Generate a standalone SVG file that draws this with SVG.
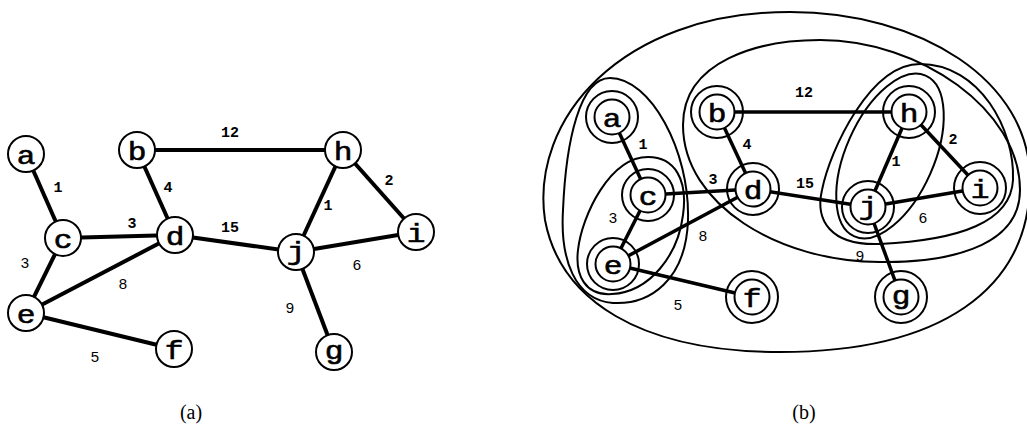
<svg xmlns="http://www.w3.org/2000/svg" width="1027" height="433" viewBox="0 0 1027 433">
<style>
.e{stroke:#000;stroke-width:4;fill:none}
.eb{stroke:#000;stroke-width:3.5;fill:none}
.n{fill:#fff;stroke:#000;stroke-width:2}
.r{fill:none;stroke:#000;stroke-width:2}
.cl{fill:none;stroke:#000;stroke-width:2}
.lt{font-family:"Liberation Mono",monospace;font-size:26px;font-weight:normal;text-anchor:middle;stroke:#000;stroke-width:0.6}
.w{font-family:"Liberation Mono",monospace;font-size:15px;font-weight:bold;text-anchor:middle}
.ws{font-family:"Liberation Sans",sans-serif;font-size:15px;text-anchor:middle}
.cap{font-family:"Liberation Serif",serif;font-size:20px;text-anchor:middle}
</style>
<rect width="1027" height="433" fill="#fff"/>
<!-- (a) -->
<g id="connectors-a">
<line class="e" x1="26" y1="154" x2="63" y2="238"/>
<line class="e" x1="63" y1="238" x2="175" y2="235"/>
<line class="e" x1="63" y1="238" x2="26" y2="313"/>
<line class="e" x1="137" y1="150" x2="175" y2="235"/>
<line class="e" x1="137" y1="150" x2="343" y2="150"/>
<line class="e" x1="175" y1="235" x2="26" y2="313"/>
<line class="e" x1="175" y1="235" x2="296" y2="252"/>
<line class="e" x1="26" y1="313" x2="174" y2="349"/>
<line class="e" x1="343" y1="150" x2="296" y2="252"/>
<line class="e" x1="343" y1="150" x2="416" y2="232"/>
<line class="e" x1="296" y1="252" x2="416" y2="232"/>
<line class="e" x1="296" y1="252" x2="334" y2="352"/>
<text class="w" x="230" y="137">12</text>
<text class="w" x="58" y="192">1</text>
<text class="w" x="168" y="192">4</text>
<text class="w" x="132" y="228">3</text>
<text class="w" x="230" y="232">15</text>
<text class="ws" x="25" y="268">3</text>
<text class="ws" x="123" y="289">8</text>
<text class="ws" x="95" y="362">5</text>
<text class="w" x="389" y="185">2</text>
<text class="w" x="328" y="210">1</text>
<text class="ws" x="357" y="270">6</text>
<text class="ws" x="290" y="313">9</text>
</g>
<g id="a-a"><circle class="n" cx="26" cy="154" r="18"/><text class="lt" transform="translate(26 164) scale(1.2 1)">a</text></g>
<g id="a-b"><circle class="n" cx="137" cy="150" r="18"/><text class="lt" transform="translate(137 160) scale(1.2 1)">b</text></g>
<g id="a-c"><circle class="n" cx="63" cy="238" r="18"/><text class="lt" transform="translate(63 248) scale(1.2 1)">c</text></g>
<g id="a-d"><circle class="n" cx="175" cy="235" r="18"/><text class="lt" transform="translate(175 245) scale(1.2 1)">d</text></g>
<g id="a-e"><circle class="n" cx="26" cy="313" r="18"/><text class="lt" transform="translate(26 323) scale(1.2 1)">e</text></g>
<g id="a-f"><circle class="n" cx="174" cy="349" r="18"/><text class="lt" transform="translate(174 359) scale(1.2 1)">f</text></g>
<g id="a-g"><circle class="n" cx="334" cy="352" r="18"/><text class="lt" transform="translate(334 359) scale(1.2 1)">g</text></g>
<g id="a-h"><circle class="n" cx="343" cy="150" r="18"/><text class="lt" transform="translate(343 160) scale(1.2 1)">h</text></g>
<g id="a-i"><circle class="n" cx="416" cy="232" r="18"/><text class="lt" transform="translate(416 242) scale(1.2 1)">i</text></g>
<g id="a-j"><circle class="n" cx="296" cy="252" r="18"/><text class="lt" transform="translate(296 260) scale(1.2 1)">j</text></g>
<text class="cap" x="191" y="419">(a)</text>
<!-- (b) -->
<g id="clusters-b">
<path class="cl" d="M 790 12 C 920 12, 1030 80, 1030 180 C 1030 290, 940 352, 780 352 C 640 352, 560 300, 545 220 C 530 120, 620 12, 790 12 Z"/>
<path class="cl" d="M 610 78 C 650 78, 690 150, 688 220 C 686 280, 650 305, 613 303 C 575 300, 560 260, 563 210 C 566 140, 580 78, 610 78 Z"/>
<path class="cl" d="M 648 157 C 675 157, 688 180, 683 215 C 678 255, 650 292, 612 294 C 585 296, 575 275, 578 250 C 582 215, 610 157, 648 157 Z"/>
<path class="cl" d="M 683 125 C 683 60, 760 40, 820 40 C 920 40, 1020 110, 1020 190 C 1020 250, 940 263, 880 262 C 780 262, 683 205, 683 125 Z"/>
<path class="cl" d="M 920 64 C 980 64, 1015 130, 1013 180 C 1011 222, 960 240, 880 244 C 830 246, 815 220, 822 190 C 830 150, 870 64, 920 64 Z"/>
<ellipse class="cl" cx="890" cy="156" rx="88" ry="44" transform="rotate(-66.1 890 156)"/>
</g>
<g id="connectors-b">
<line class="eb" x1="612" y1="117" x2="648" y2="195"/>
<line class="eb" x1="648" y1="195" x2="753" y2="189"/>
<line class="eb" x1="648" y1="195" x2="613" y2="264"/>
<line class="eb" x1="717" y1="112" x2="753" y2="189"/>
<line class="eb" x1="717" y1="112" x2="909" y2="112"/>
<line class="eb" x1="753" y1="189" x2="613" y2="264"/>
<line class="eb" x1="753" y1="189" x2="868" y2="207"/>
<line class="eb" x1="613" y1="264" x2="752" y2="297"/>
<line class="eb" x1="909" y1="112" x2="868" y2="207"/>
<line class="eb" x1="909" y1="112" x2="980" y2="188"/>
<line class="eb" x1="868" y1="207" x2="980" y2="188"/>
<line class="eb" x1="868" y1="207" x2="901" y2="297"/>
<text class="w" x="804" y="97">12</text>
<text class="w" x="643" y="149">1</text>
<text class="w" x="747" y="149">4</text>
<text class="w" x="953" y="144">2</text>
<text class="w" x="896" y="166">1</text>
<text class="w" x="713" y="184">3</text>
<text class="w" x="805" y="188">15</text>
<text class="ws" x="613" y="223">3</text>
<text class="ws" x="703" y="241">8</text>
<text class="ws" x="923" y="223">6</text>
<text class="ws" x="860" y="261">9</text>
<text class="ws" x="678" y="310">5</text>
</g>
<g id="b-a"><circle class="r" cx="612" cy="117" r="26"/><circle class="n" cx="612" cy="117" r="17.5"/><text class="lt" transform="translate(612 127) scale(1.2 1)">a</text></g>
<g id="b-b"><circle class="r" cx="717" cy="112" r="26"/><circle class="n" cx="717" cy="112" r="17.5"/><text class="lt" transform="translate(717 122) scale(1.2 1)">b</text></g>
<g id="b-c"><circle class="r" cx="648" cy="195" r="26"/><circle class="n" cx="648" cy="195" r="17.5"/><text class="lt" transform="translate(648 205) scale(1.2 1)">c</text></g>
<g id="b-d"><circle class="r" cx="753" cy="189" r="26"/><circle class="n" cx="753" cy="189" r="17.5"/><text class="lt" transform="translate(753 199) scale(1.2 1)">d</text></g>
<g id="b-e"><circle class="r" cx="613" cy="264" r="26"/><circle class="n" cx="613" cy="264" r="17.5"/><text class="lt" transform="translate(613 274) scale(1.2 1)">e</text></g>
<g id="b-f"><circle class="r" cx="752" cy="297" r="26"/><circle class="n" cx="752" cy="297" r="17.5"/><text class="lt" transform="translate(752 307) scale(1.2 1)">f</text></g>
<g id="b-g"><circle class="r" cx="901" cy="297" r="26"/><circle class="n" cx="901" cy="297" r="17.5"/><text class="lt" transform="translate(901 304) scale(1.2 1)">g</text></g>
<g id="b-h"><circle class="r" cx="909" cy="112" r="26"/><circle class="n" cx="909" cy="112" r="17.5"/><text class="lt" transform="translate(909 122) scale(1.2 1)">h</text></g>
<g id="b-i"><circle class="r" cx="980" cy="188" r="26"/><circle class="n" cx="980" cy="188" r="17.5"/><text class="lt" transform="translate(980 198) scale(1.2 1)">i</text></g>
<g id="b-j"><circle class="r" cx="868" cy="207" r="26"/><circle class="n" cx="868" cy="207" r="17.5"/><text class="lt" transform="translate(868 215) scale(1.2 1)">j</text></g>
<text class="cap" x="804" y="419">(b)</text>
</svg>
